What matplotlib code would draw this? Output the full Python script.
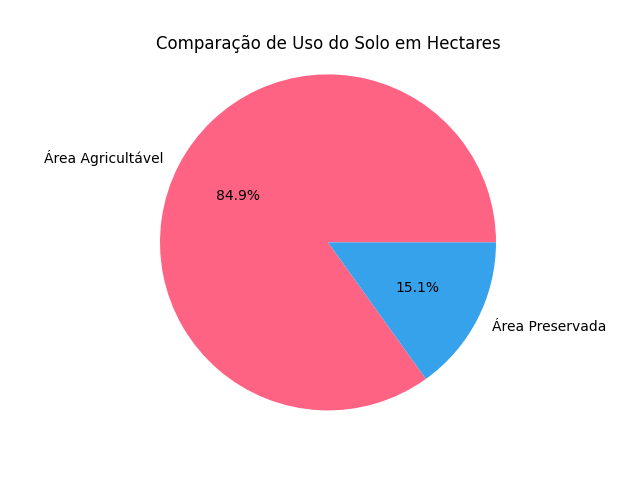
import matplotlib
matplotlib.use('Agg')
import matplotlib.pyplot as plt

labels = ['Área Agricultável', 'Área Preservada']
hectares = [84.9, 15.1]
colors = ['#FF6384', '#36A2EB']

fig, ax = plt.subplots(figsize=(6.4, 4.8), dpi=100)
ax.pie(hectares, labels=labels, colors=colors, autopct='%1.1f%%')
ax.set_xlim(-1.1, 1.1)
ax.set_ylim(-1.1, 1.1)
ax.set_title('Comparação de Uso do Solo em Hectares')
fig.savefig('out.png')
